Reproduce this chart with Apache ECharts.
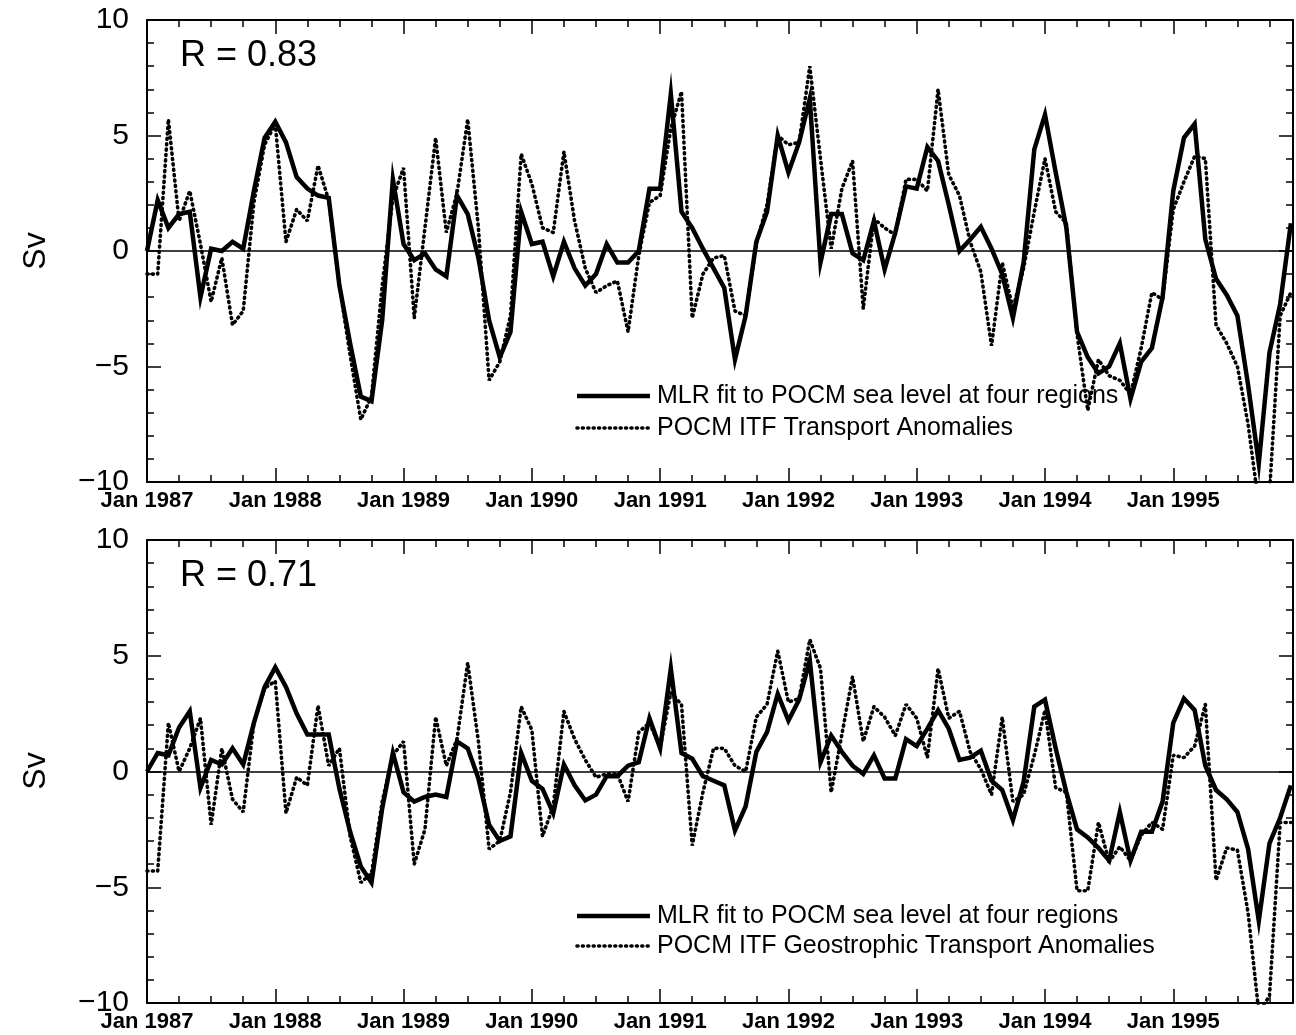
<!DOCTYPE html>
<html>
<head>
<meta charset="utf-8">
<script src="https://cdn.jsdelivr.net/npm/echarts@6/dist/echarts.min.js"></script>
<style>
  html, body { margin: 0; padding: 0; background: #fff; }
  #chart { width: 1296px; height: 1035px; }
</style>
</head>
<body>
<div id="chart"></div>
<script>
// Monthly ITF transport anomalies (Sv), Jan 1987 - Dec 1995, index 0 = Jan 1987
const yearLabels = ['Jan 1987', 'Jan 1988', 'Jan 1989', 'Jan 1990', 'Jan 1991',
                    'Jan 1992', 'Jan 1993', 'Jan 1994', 'Jan 1995'];
const yTicks = [-10, -5, 0, 5, 10];

const mlrName = 'MLR fit to POCM sea level at four regions';
const itfName = 'POCM ITF Transport Anomalies';
const geoName = 'POCM ITF Geostrophic Transport Anomalies';
const rTop = 'R = 0.83';
const rBottom = 'R = 0.71';

// Upper panel: regression fit vs. total transport
const mlrTop = [
  0.0, 2.2, 1.0, 1.6, 1.7, -2.0, 0.1, 0.0, 0.4, 0.1, 2.6, 4.9,
  5.6, 4.7, 3.2, 2.7, 2.4, 2.3, -1.5, -4.0, -6.3, -6.5, -3.0, 3.1,
  0.3, -0.4, -0.1, -0.8, -1.1, 2.4, 1.6, -0.3, -3.0, -4.6, -3.5, 1.7,
  0.3, 0.4, -1.1, 0.4, -0.75, -1.5, -1.0, 0.3, -0.5, -0.5, 0.0, 2.7,
  2.7, 6.8, 1.7, 1.0, 0.1, -0.75, -1.6, -4.7, -2.8, 0.4, 1.7, 5.0,
  3.4, 4.7, 6.6, -0.5, 1.6, 1.6, -0.1, -0.4, 1.3, -0.8, 0.8, 2.8,
  2.7, 4.5, 3.9, 2.0, 0.0, 0.5, 1.05, 0.1, -1.0, -2.9, -0.5, 4.4,
  5.9, 3.4, 1.0, -3.5, -4.6, -5.3, -5.0, -4.0, -6.4, -4.8, -4.2, -2.0,
  2.6, 4.9, 5.5, 0.5, -1.2, -1.9, -2.8, -5.8, -9.2, -4.4, -2.3, 1.2
];
const itfTop = [
  -1.0, -1.0, 5.7, 1.3, 2.6, 0.3, -2.2, -0.3, -3.2, -2.6, 2.1, 4.6,
  5.5, 0.4, 1.8, 1.3, 3.7, 2.2, -1.5, -4.5, -7.3, -6.3, -1.5, 2.3,
  3.6, -2.9, 1.0, 4.9, 0.8, 2.5, 5.7, 1.0, -5.6, -4.8, -2.8, 4.2,
  2.9, 1.0, 0.8, 4.3, 1.3, -0.75, -1.8, -1.5, -1.3, -3.5, -0.2, 2.1,
  2.4, 5.3, 6.9, -2.9, -1.0, -0.3, -0.2, -2.6, -2.8, 0.3, 2.0, 5.0,
  4.6, 4.7, 8.0, 4.0, 0.1, 2.7, 3.9, -2.5, 1.4, 1.0, 0.7, 3.1,
  3.1, 2.6, 7.0, 3.3, 2.4, 0.4, -0.9, -4.1, -0.5, -2.5, -0.75, 1.7,
  4.0, 1.7, 1.2, -3.6, -6.9, -4.7, -5.4, -5.6, -6.2, -4.2, -1.8, -2.1,
  1.8, 3.0, 4.1, 4.0, -3.2, -4.0, -5.0, -7.5, -11.0, -10.5, -2.8, -1.8
];

// Lower panel: regression fit vs. geostrophic transport
const mlrBottom = [
  0.0, 0.8, 0.7, 1.9, 2.6, -0.7, 0.5, 0.3, 1.0, 0.3, 2.1, 3.65,
  4.5, 3.65, 2.5, 1.6, 1.6, 1.6, -0.75, -2.6, -4.1, -4.8, -1.6, 0.8,
  -0.9, -1.3, -1.1, -1.0, -1.1, 1.3, 1.0, -0.3, -2.3, -3.0, -2.8, 0.8,
  -0.4, -0.75, -1.8, 0.3, -0.6, -1.25, -1.0, -0.2, -0.2, 0.25, 0.4, 2.3,
  1.0, 4.45, 0.8, 0.55, -0.2, -0.4, -0.6, -2.55, -1.5, 0.85, 1.7, 3.35,
  2.2, 3.1, 4.8, 0.4, 1.55, 0.85, 0.25, -0.1, 0.7, -0.3, -0.3, 1.4,
  1.1, 1.85, 2.65, 1.85, 0.5, 0.6, 0.9, -0.4, -0.8, -2.1, -0.45, 2.8,
  3.1, 1.0, -0.9, -2.5, -2.85, -3.3, -3.85, -1.75, -3.85, -2.6, -2.6, -1.3,
  2.1, 3.15, 2.65, 0.25, -0.8, -1.2, -1.75, -3.35, -6.45, -3.1, -2.0, -0.6
];
const geoBottom = [
  -4.3, -4.3, 2.1, 0.0, 1.0, 2.3, -2.3, 1.0, -1.2, -1.75, 2.1, 3.6,
  3.9, -1.8, -0.25, -0.6, 2.85, 0.25, 1.0, -2.8, -4.8, -4.4, -1.3, 0.7,
  1.3, -4.0, -2.5, 2.35, 0.25, 1.4, 4.7, 1.3, -3.35, -3.0, -0.9, 2.8,
  1.8, -2.8, -1.5, 2.6, 1.4, 0.5, -0.25, -0.1, -0.1, -1.3, 1.7, 2.1,
  1.05, 3.4, 2.9, -3.2, -0.9, 1.0, 1.0, 0.25, 0.0, 2.35, 2.9, 5.2,
  3.0, 3.15, 5.7, 4.45, -0.9, 1.6, 4.1, 1.3, 2.8, 2.35, 1.55, 2.9,
  2.3, 0.6, 4.45, 2.3, 2.6, 0.85, 0.1, -1.0, 2.35, -1.3, -1.0, 0.7,
  2.65, -0.7, -0.9, -5.15, -5.15, -2.2, -3.9, -3.25, -3.85, -2.75, -2.2, -2.5,
  0.7, 0.6, 1.1, 2.9, -4.7, -3.3, -3.4, -6.1, -10.4, -9.7, -2.2, -2.2
];

const FONT = 'Liberation Sans, Arial, Helvetica, sans-serif';
const X_MAX = 107.2;
const SOLID_W = 4.5;
const DOT_W = 3.6;
const DOT_DASH = [1, 4.4];

function xAxisFor(gridIndex, position, withLabels) {
  return {
    type: 'value', gridIndex: gridIndex, position: position,
    min: 0, max: X_MAX, interval: 12,
    axisLine: { show: true, onZero: false, lineStyle: { color: '#000', width: 2 } },
    axisTick: { show: true, inside: true, length: 14, lineStyle: { color: '#000', width: 1.5 } },
    minorTick: { show: true, splitNumber: 4, length: 7, lineStyle: { color: '#000', width: 1.5 } },
    splitLine: { show: false },
    minorSplitLine: { show: false },
    axisLabel: {
      show: withLabels, margin: 8, color: '#000',
      fontFamily: FONT, fontSize: 22, fontWeight: 'bold',
      formatter: function (v) {
        const k = Math.round(v / 12);
        return (Math.abs(v - k * 12) < 1e-6 && k < yearLabels.length) ? yearLabels[k] : '';
      }
    }
  };
}

function yAxisFor(gridIndex, position, withLabels) {
  return {
    type: 'value', gridIndex: gridIndex, position: position,
    min: yTicks[0], max: yTicks[yTicks.length - 1], interval: 5,
    axisLine: { show: true, onZero: false, lineStyle: { color: '#000', width: 2 } },
    axisTick: { show: true, inside: true, length: 14, lineStyle: { color: '#000', width: 1.5 } },
    minorTick: { show: true, splitNumber: 5, length: 7, lineStyle: { color: '#000', width: 1.5 } },
    splitLine: { show: false },
    minorSplitLine: { show: false },
    axisLabel: {
      show: withLabels, margin: 18, color: '#000',
      fontFamily: FONT, fontSize: 30,
      formatter: function (v) { return String(v).replace('-', '\u2212'); }
    }
  };
}

function pairs(arr) { return arr.map(function (v, i) { return [i, v]; }); }

function solidSeries(axisIdx, values) {
  return {
    type: 'line', name: mlrName, xAxisIndex: axisIdx, yAxisIndex: axisIdx,
    data: pairs(values), symbol: 'none', showSymbol: false, z: 3,
    lineStyle: { color: '#000', width: SOLID_W, type: 'solid', join: 'miter' },
    itemStyle: { color: '#000' },
    markLine: {
      silent: true, symbol: 'none', label: { show: false },
      lineStyle: { color: '#000', width: 1.5, type: 'solid' },
      data: [{ yAxis: 0 }]
    }
  };
}

function dottedSeries(axisIdx, name, values) {
  return {
    type: 'line', name: name, xAxisIndex: axisIdx, yAxisIndex: axisIdx,
    data: pairs(values), symbol: 'none', showSymbol: false, z: 4,
    lineStyle: { color: '#000', width: DOT_W, type: DOT_DASH, cap: 'round' },
    itemStyle: { color: '#000' }
  };
}

// Key: line sample + caption for each series of a panel
function keyRow(y, text, dotted) {
  return [
    {
      type: 'line', z: 10,
      shape: { x1: 577, y1: y, x2: 650, y2: y },
      style: dotted
        ? { stroke: '#000', lineWidth: DOT_W, lineDash: DOT_DASH, lineCap: 'round' }
        : { stroke: '#000', lineWidth: SOLID_W }
    },
    {
      type: 'text', z: 10, x: 657, y: y,
      style: { text: text, fill: '#000', font: '25px ' + FONT, textAlign: 'left', textVerticalAlign: 'middle' }
    }
  ];
}

function labelText(x, y, text, size, rotation) {
  return {
    type: 'text', x: x, y: y, rotation: rotation || 0, z: 10,
    style: {
      text: text, fill: '#000', font: size + 'px ' + FONT,
      textAlign: rotation ? 'center' : 'left', textVerticalAlign: 'middle'
    }
  };
}

const chart = echarts.init(document.getElementById('chart'), null, { renderer: 'canvas' });
chart.setOption({
  backgroundColor: '#fff',
  animation: false,
  grid: [
    { left: 147, top: 20, width: 1148, height: 462 },
    { left: 147, top: 540, width: 1148, height: 463 }
  ],
  xAxis: [
    xAxisFor(0, 'bottom', true), xAxisFor(0, 'top', false),
    xAxisFor(1, 'bottom', true), xAxisFor(1, 'top', false)
  ],
  yAxis: [
    yAxisFor(0, 'left', true), yAxisFor(0, 'right', false),
    yAxisFor(1, 'left', true), yAxisFor(1, 'right', false)
  ],
  series: [
    solidSeries(0, mlrTop),
    dottedSeries(0, itfName, itfTop),
    solidSeries(2, mlrBottom),
    dottedSeries(2, geoName, geoBottom)
  ],
  graphic: [].concat(
    keyRow(396, mlrName, false),
    keyRow(428, itfName, true),
    keyRow(916, mlrName, false),
    keyRow(946, geoName, true),
    [
      labelText(180, 56, rTop, 36),
      labelText(180, 576, rBottom, 36),
      labelText(36, 251, 'Sv', 32, Math.PI / 2),
      labelText(36, 771, 'Sv', 32, Math.PI / 2)
    ]
  )
});
</script>
</body>
</html>
